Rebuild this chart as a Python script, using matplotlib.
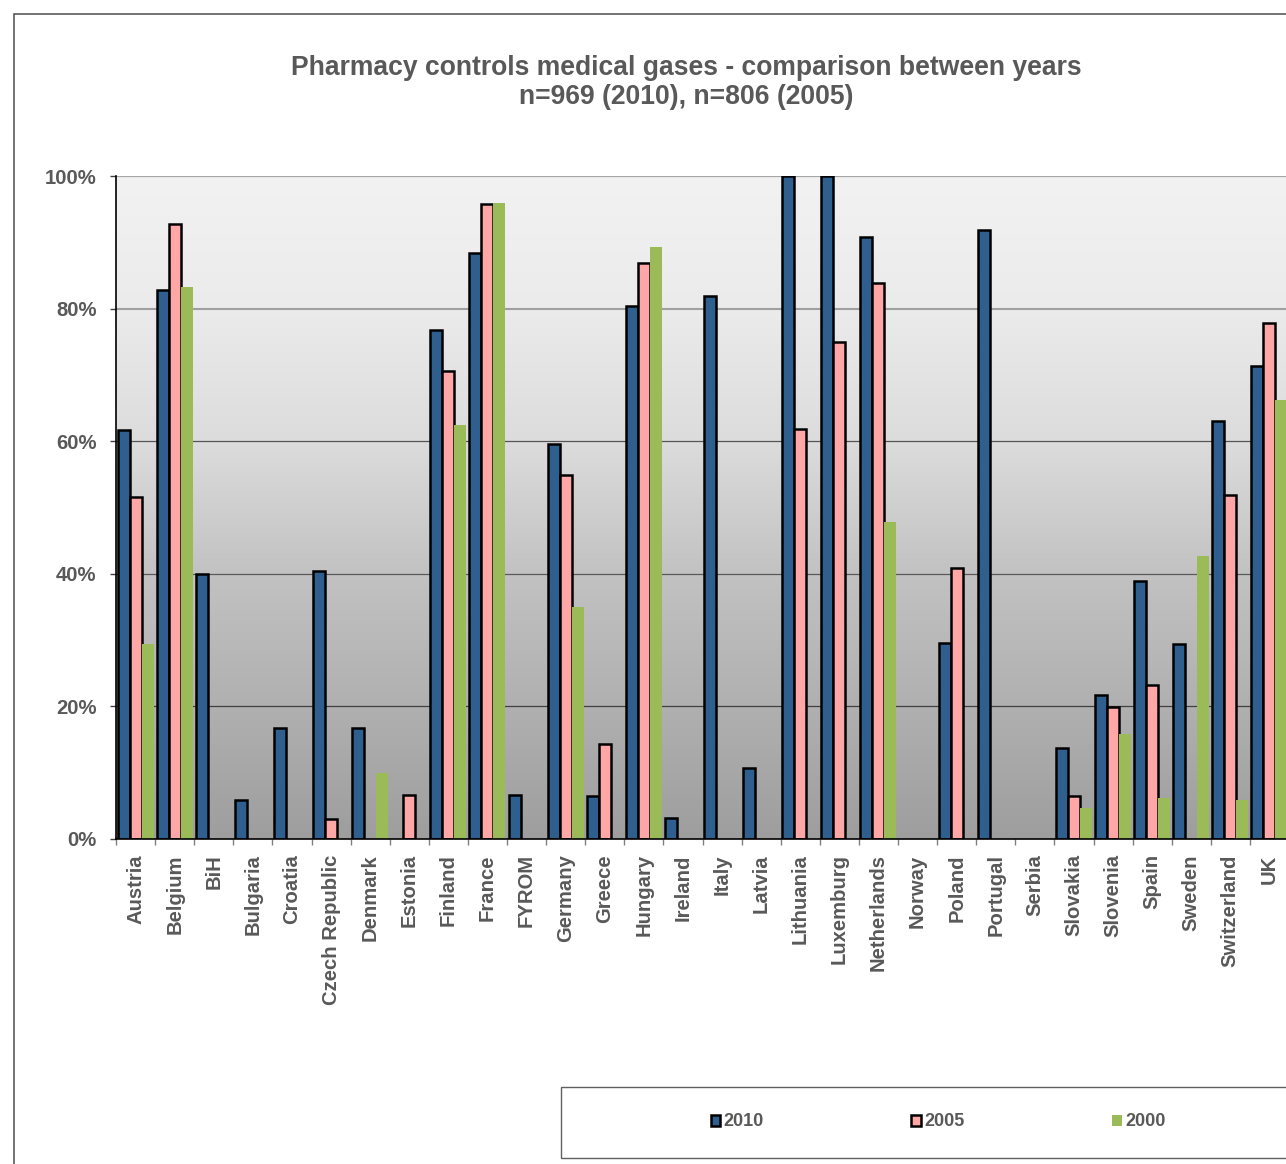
import numpy as np
import matplotlib
matplotlib.use("Agg")
import matplotlib.pyplot as plt
from matplotlib.patches import Rectangle, Patch

nan = np.nan
countries = ["Austria", "Belgium", "BiH", "Bulgaria", "Croatia", "Czech Republic", "Denmark",
             "Estonia", "Finland", "France", "FYROM", "Germany", "Greece", "Hungary", "Ireland",
             "Italy", "Latvia", "Lithuania", "Luxemburg", "Netherlands", "Norway", "Poland",
             "Portugal", "Serbia", "Slovakia", "Slovenia", "Spain", "Sweden", "Switzerland", "UK"]
v2010 = [61.7, 82.8, 40.0, 5.9, 16.7, 40.4, 16.7, nan, 76.8, 88.4, 6.6, 59.6, 6.5, 80.4, 3.2,
         81.9, 10.7, 100.0, 100.0, 90.8, nan, 29.6, 91.9, nan, 13.8, 21.7, 38.9, 29.4, 63.1, 71.4]
v2005 = [51.6, 92.8, nan, nan, nan, 3.0, nan, 6.7, 70.6, 95.8, nan, 54.9, 14.3, 86.9, nan,
         nan, nan, 61.8, 75.0, 83.9, nan, 40.9, nan, nan, 6.5, 19.9, 23.2, nan, 51.9, 77.8]
v2000 = [29.4, 83.3, nan, nan, nan, nan, 10.0, nan, 62.4, 95.9, nan, 35.0, nan, 89.3, nan,
         nan, nan, nan, nan, 47.8, nan, nan, nan, nan, 4.7, 15.8, 6.2, 42.7, 5.9, 66.2]
series_names = ["2010", "2005", "2000"]
yticks = [0, 20, 40, 60, 80, 100]
ytick_labels = ["0%", "20%", "40%", "60%", "80%", "100%"]

plt.rcParams['font.family'] = ['Liberation Sans', 'DejaVu Sans']
plt.rcParams['font.weight'] = 'bold'
TXT = '#595959'

W, H = 1286, 1164
fig = plt.figure(figsize=(W / 100, H / 100), dpi=100)
fig.patch.set_facecolor('white')

# chart area border (clipped on right/bottom like the reference)
fig.patches.append(Rectangle((14 / W, -0.01), 1.5, 1 - 14 / H + 0.01, transform=fig.transFigure,
                             fill=False, edgecolor='#4d4d4d', linewidth=1.1, zorder=0))

left, right, top, bottom = 116, 1289, 176, 839
ax = fig.add_axes([left / W, 1 - bottom / H, (right - left) / W, (bottom - top) / H])
ax.patch.set_visible(False)

# gradient background (light at top, darker at bottom)
ys = np.array([0, 20, 40, 60, 80, 100]) / 100
gv = np.array([158, 176, 194, 220, 235, 242]) / 255
yy = np.linspace(0, 1, 400)
g = np.interp(yy, ys, gv)
img = np.stack([g, g, g], axis=-1).reshape(400, 1, 3)
ax.imshow(img, extent=(0, 1, 0, 1), origin='lower', transform=ax.transAxes, aspect='auto',
          zorder=0, interpolation='bilinear')

x = np.arange(len(countries))
bw = 0.307
ax.bar(x - bw, v2010, bw, color='#2e5f8f', edgecolor='black', linewidth=1.8, zorder=3, label=series_names[0])
ax.bar(x, v2005, bw, color='#ffa6a6', edgecolor='black', linewidth=1.8, zorder=3, label=series_names[1])
ax.bar(x + bw, v2000, bw, color='#9bbb59', edgecolor='none', linewidth=0, zorder=3, label=series_names[2])

grid_style = {100: ('#a6a6a6', 1.6), 80: ('#a0a0a0', 1.5), 60: ('#555555', 0.9),
              40: ('#5a5a5a', 0.9), 20: ('#404040', 0.9)}
for yv, (c, lw) in grid_style.items():
    ax.axhline(yv, color=c, linewidth=lw, zorder=1)

ax.set_xlim(-0.5, len(countries) - 0.5)
ax.set_ylim(0, 100)
ax.set_yticks(yticks)
ax.set_yticklabels(ytick_labels)
ax.set_xticks(x)
ax.set_xticklabels(countries, rotation=90, va='top', ha='center')
ax.set_xticks(np.arange(len(countries) + 1) - 0.5, minor=True)
ax.tick_params(axis='x', which='major', length=0, pad=11, labelsize=14.6, labelcolor=TXT)
ax.tick_params(axis='x', which='minor', length=4, width=1, color='#808080', direction='out')
ax.tick_params(axis='y', length=4, width=1, color='#404040', pad=10, labelsize=14.6, labelcolor=TXT)
for lab in ax.get_xticklabels() + ax.get_yticklabels():
    lab.set_fontweight('bold')

for s in ['top', 'right']:
    ax.spines[s].set_visible(False)
for s in ['left', 'bottom']:
    ax.spines[s].set_color('black')
    ax.spines[s].set_linewidth(1.2)
    ax.spines[s].set_zorder(4)

# title
fig.text(686 / W, 1 - 68 / H, "Pharmacy controls medical gases - comparison between years",
         ha='center', va='center', fontsize=19.1, fontweight='bold', color=TXT)
fig.text(686 / W, 1 - 97 / H, "n=969 (2010), n=806 (2005)",
         ha='center', va='center', fontsize=19.1, fontweight='bold', color=TXT)

# legend box
fig.patches.append(Rectangle((561 / W, 1 - 1158 / H), 1.0, 71 / H, transform=fig.transFigure,
                             fill=False, edgecolor='#606060', linewidth=1.0, zorder=1))
handles = [Patch(facecolor='#2e5f8f', edgecolor='black', linewidth=1.8),
           Patch(facecolor='#ffa6a6', edgecolor='black', linewidth=1.8),
           Patch(facecolor='#9bbb59', edgecolor='none')]
leg = fig.legend(handles, series_names, loc='center', bbox_to_anchor=(938 / W, 1 - 1122 / H),
                 ncol=3, frameon=False, handlelength=0.55, handleheight=0.55,
                 handletextpad=0.15, columnspacing=8.2, prop={'weight': 'bold', 'size': 13})
for t in leg.get_texts():
    t.set_color(TXT)

fig.savefig('out.png', dpi=100, facecolor='white')
